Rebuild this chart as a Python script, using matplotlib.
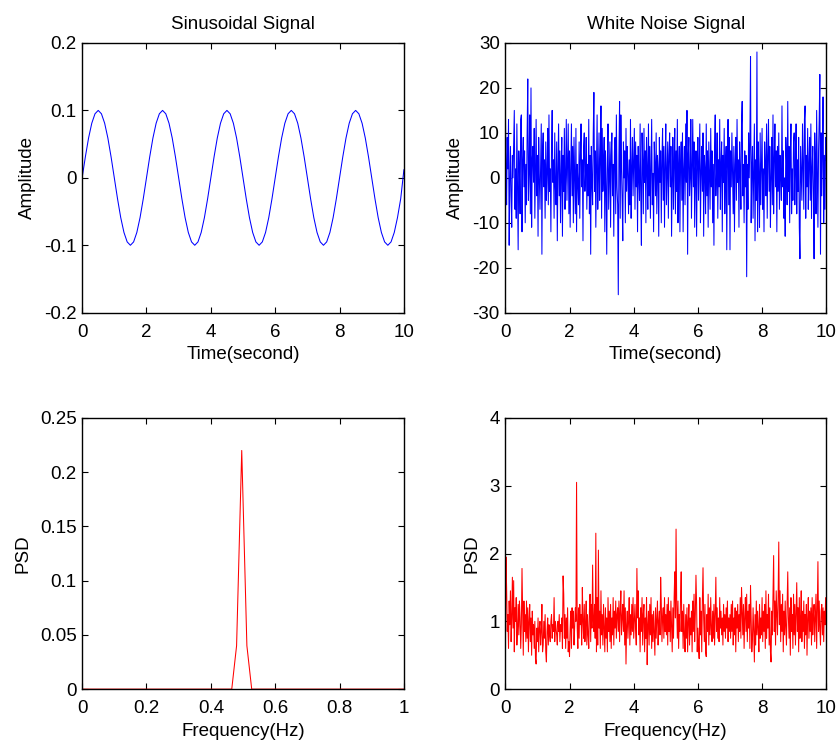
import matplotlib
matplotlib.use('Agg')
import matplotlib.pyplot as plt
from matplotlib.ticker import FuncFormatter

plt.rcParams['font.family'] = ['Liberation Sans', 'DejaVu Sans']
plt.rcParams['axes.unicode_minus'] = False

# sinusoid, 0.1 s steps from 0 to 10 s
sine_t = [i * 0.1 for i in range(101)]
sine_amp = [
    0, .031, .059, .081, .095, .1, .095, .081, .059, .031,
    0, -.031, -.059, -.081, -.095, -.1, -.095, -.081, -.059, -.031,
    0, .031, .059, .081, .095, .1, .095, .081, .059, .031,
    0, -.031, -.059, -.081, -.095, -.1, -.095, -.081, -.059, -.031,
    0, .031, .059, .081, .095, .1, .095, .081, .059, .031,
    0, -.031, -.059, -.081, -.095, -.1, -.095, -.081, -.059, -.031,
    0, .031, .059, .081, .095, .1, .095, .081, .059, .031,
    0, -.031, -.059, -.081, -.095, -.1, -.095, -.081, -.059, -.031,
    0, .031, .059, .081, .095, .1, .095, .081, .059, .031,
    0, -.031, -.059, -.081, -.095, -.1, -.095, -.081, -.059, -.031,
    0.012,
]

# psd of the sinusoid (only the bins around 0.5 Hz are non zero)
sine_freq = [0, 0.465, 0.48, 0.496, 0.512, 0.527, 1.0]
sine_psd = [0, 0, 0.04, 0.22, 0.04, 0, 0]

# white noise, 0.02 s steps (one row = 0.5 s)
noise_t = [i * 0.02 for i in range(501)]
noise_amp = [
    17, 3, -6, 9, 2, 13, -15, -1, 7, -4, -11, 5, 0, 8, 15, -7, 2, -9, 12, -3, -16, 6, 1, -8, 13,
    14, -12, 4, 9, -2, 6, -10, 3, -6, 10, 22, -5, 1, 14, -8, 20, -11, 4, 7, -1, 11, -9, 2, 13, -4,
    5, -13, 9, 0, -7, 3, 12, -17, 6, 10, -2, 4, -9, 8, -5, 1, 11, -6, 14, -3, 2, -12, 7, 15, -1,
    4, -9, 10, -2, -6, 8, -14, 2, 12, -4, 6, -10, 1, 9, -13, 5, -3, 11, -7, 0, 13, -5, 3, 12, -8,
    6, -11, 2, 12, -4, 7, -10, 9, 1, -8, 11, -12, 3, -1, -6, 8, -9, 5, 12, -2, 4, -14, 7, 10, -3,
    1, 9, -7, 3, -4, 13, -8, 5, -17, 7, -1, -6, 10, 19, -3, 6, -11, 2, 14, -7, 0, 10, -5, 4, 16,
    -9, 11, -3, 2, 9, -12, 6, -2, -17, 4, 12, -7, 1, 8, -11, 5, 10, -4, 3, -13, 6, 9, -8, 14, -2,
    -6, -26, 5, 17, -9, 14, 2, -5, -14, 8, 0, 6, -10, 11, -3, 7, 1, -8, 4, -6, 13, -9, 2, 9, -4,
    3, 11, -7, 8, -2, 5, -12, 7, 0, -5, 12, -3, -15, 10, 4, -8, 11, -1, 6, -10, 9, 2, -7, 12, -4,
    7, -9, 2, 13, -6, 1, -12, 8, 3, -4, 10, -8, 5, 2, -13, 9, -1, 6, -10, 4, 11, -5, 7, -11, 3,
    12, -6, 1, 8, -9, 5, 10, -2, 7, -13, 0, 9, -7, 4, 11, -8, 6, -3, 13, -10, 2, 7, -12, 3, 8,
    -5, 10, -12, 2, 7, -6, 12, -1, 15, -17, 5, 9, -4, 0, 13, -9, 3, 13, -2, 8, -11, 1, 6, -13, 4,
    9, -5, 3, 12, -10, 1, 7, -3, 10, -13, 5, 2, -8, 12, -4, 6, -11, 8, 0, -7, 11, -2, 6, -10, 3,
    -15, 7, 14, -4, 1, 10, -9, 4, -2, 13, -7, 3, 8, -12, 5, -1, 11, -8, 2, 7, -16, 4, 13, -6, 9,
    -16, 6, -2, 10, 1, -8, 7, -12, 3, 9, -5, 13, -1, 4, -11, 8, 2, -7, 12, 17, -4, 3, -10, 6, -2,
    5, -22, 3, -7, 10, 0, 8, 27, -10, 2, 7, -9, 1, 12, -14, 4, -5, 28, -12, 8, 1, -11, 10, -6, 3,
    11, -7, 2, -12, 8, 3, -4, 12, -9, 5, 13, -3, 7, -11, 0, 9, -6, 14, -8, 4, 12, -2, 6, -12, 7,
    -3, 10, -7, 5, 1, -5, 16, -2, 6, -9, 0, -13, 9, 4, -6, 17, -3, 7, -10, 5, 12, -8, 2, -5, 8,
    10, -6, 2, 12, -8, 4, -3, 9, -11, -18, 7, 1, -5, 12, 3, -7, 13, 16, -9, 5, -2, 11, -7, 3, 9,
    -5, 12, -9, 2, 7, -3, -18, 10, 4, -8, 15, 2, -11, 6, 13, 23, -17, 10, -4, 6, 18, -10, 5, -7, 9,
    4,
]

# psd of the noise, 0.02 Hz bins (one row = 0.5 Hz)
noise_freq = [i * 0.02 for i in range(501)]
noise_psd = [
    0.43, 1.95, 1.5, 0.85, 1.1, 0.6, 1.3, 0.95, 1.45, 0.7, 1.05, 1.65, 0.9, 1.6, 0.55, 1.2, 1.0, 1.35, 0.65, 0.9, 1.25, 0.8, 1.3, 1.05, 0.6,
    0.95, 1.78, 1.1, 0.5, 1.3, 0.85, 1.1, 0.7, 1.3, 0.75, 1.2, 0.55, 1.0, 1.25, 0.7, 1.05, 0.5, 1.15, 0.8, 0.95, 0.6, 1.0, 0.45, 0.37, 0.9,
    0.7, 1.05, 0.55, 0.9, 1.0, 0.65, 0.85, 1.25, 0.55, 0.65, 1.0, 0.75, 1.1, 0.55, 0.4, 0.85, 1.05, 0.65, 0.95, 0.8, 0.7, 1.0, 1.1, 0.75, 0.95,
    0.85, 1.35, 0.7, 1.0, 0.9, 0.8, 0.65, 1.0, 0.85, 1.1, 0.7, 0.95, 0.85, 1.05, 0.6, 1.67, 1.4, 0.75, 1.1, 0.6, 1.05, 0.75, 1.2, 0.55, 0.7,
    0.48, 0.9, 1.15, 0.6, 1.2, 0.9, 1.15, 0.65, 0.9, 1.2, 1.0, 3.05, 0.9, 0.6, 1.2, 0.75, 1.25, 0.95, 1.1, 0.65, 1.5, 1.0, 0.75, 1.25, 0.7,
    0.95, 1.3, 0.65, 1.1, 0.8, 0.6, 1.15, 1.4, 0.7, 1.25, 0.9, 1.83, 1.05, 0.85, 1.25, 0.75, 2.3, 0.55, 1.35, 0.65, 2.05, 0.9, 1.15, 0.6, 1.45,
    0.8, 1.1, 0.65, 1.25, 0.9, 0.55, 1.2, 0.75, 1.05, 0.55, 1.35, 0.85, 1.15, 0.7, 1.25, 0.6, 1.05, 0.8, 1.35, 0.65, 1.15, 0.9, 1.3, 0.75, 1.1,
    1.2, 0.85, 1.3, 0.7, 1.15, 1.45, 0.8, 1.05, 1.25, 0.85, 1.45, 0.65, 1.2, 0.37, 0.95, 1.15, 0.75, 1.0, 1.35, 0.65, 1.1, 0.8, 1.25, 0.85, 1.35,
    0.75, 1.0, 1.25, 0.9, 0.65, 1.78, 1.05, 1.45, 0.8, 1.05, 0.55, 1.2, 0.85, 1.35, 0.65, 1.1, 1.25, 0.55, 1.05, 0.75, 1.35, 0.36, 0.95, 1.15, 0.65,
    1.25, 0.8, 1.35, 0.6, 1.1, 0.7, 1.15, 0.85, 0.5, 1.2, 0.75, 1.05, 1.3, 0.65, 1.0, 1.15, 0.8, 1.65, 1.25, 0.7, 1.05, 1.2, 0.75, 1.35, 0.85,
    1.1, 0.8, 1.25, 0.65, 1.35, 0.85, 1.15, 0.7, 1.3, 0.9, 0.55, 1.2, 0.75, 1.35, 1.73, 1.05, 2.36, 1.25, 0.75, 1.3, 0.6, 1.1, 0.85, 1.35, 1.73,
    0.85, 1.15, 0.6, 1.25, 0.8, 0.55, 1.1, 0.75, 1.2, 0.55, 1.0, 1.25, 0.65, 1.05, 0.8, 1.15, 0.55, 1.3, 0.85, 1.4, 0.7, 1.1, 1.68, 1.25, 0.55,
    0.9, 0.65, 0.45, 1.35, 0.8, 1.15, 0.55, 1.3, 1.79, 1.05, 0.7, 1.25, 0.55, 0.48, 1.1, 0.85, 1.4, 0.65, 1.2, 0.8, 1.35, 0.9, 0.7, 1.15, 0.75,
    1.25, 0.65, 1.1, 1.65, 0.85, 1.2, 0.75, 1.05, 0.7, 1.35, 0.9, 1.15, 0.8, 1.05, 0.65, 1.25, 0.85, 1.1, 0.75, 1.2, 0.9, 1.3, 0.7, 1.05, 0.85,
    1.1, 0.75, 1.25, 0.85, 1.3, 0.65, 1.05, 0.8, 1.2, 0.55, 1.15, 0.9, 1.25, 0.7, 1.1, 0.85, 1.35, 0.75, 1.5, 1.15, 0.8, 1.25, 0.6, 1.05, 1.35,
    0.85, 1.4, 0.7, 1.15, 0.9, 1.25, 0.6, 1.53, 1.05, 0.55, 0.75, 1.2, 0.85, 0.4, 1.1, 0.65, 1.3, 0.8, 1.15, 0.9, 0.55, 1.25, 0.75, 1.05, 0.8,
    1.35, 0.7, 1.15, 0.85, 1.25, 0.6, 1.45, 0.75, 1.1, 0.9, 1.4, 0.65, 1.2, 0.55, 0.4, 1.15, 0.8, 1.35, 1.97, 0.85, 1.3, 0.65, 1.45, 1.1, 0.8,
    1.35, 2.17, 0.95, 1.45, 0.7, 1.25, 0.85, 1.4, 0.55, 1.15, 0.8, 1.3, 0.9, 0.65, 1.25, 1.73, 1.05, 0.75, 1.2, 0.5, 1.35, 0.85, 1.1, 0.6, 1.4,
    0.8, 1.25, 0.65, 1.1, 1.57, 0.85, 1.2, 0.55, 1.35, 0.75, 1.05, 1.45, 0.7, 1.15, 0.85, 1.3, 0.6, 1.1, 0.8, 1.25, 0.5, 1.05, 1.35, 0.75, 1.15,
    0.85, 1.2, 0.65, 1.35, 0.8, 1.1, 1.25, 0.7, 1.05, 1.4, 0.6, 1.15, 1.88, 0.85, 1.3, 0.9, 0.65, 1.15, 1.25, 0.8, 1.2, 0.7, 1.15, 0.95, 1.35,
    0.95,
]

fig = plt.figure(figsize=(8.38, 7.41), dpi=100)
fs = 13.5
lw = 0.75
fmt = FuncFormatter(lambda v, p: '%g' % round(v, 6))

def style(ax, xlim, ylim, xticks, yticks, xlabel, ylabel, title=None):
    ax.set_xlim(xlim)
    ax.set_ylim(ylim)
    ax.set_xticks(xticks)
    ax.set_yticks(yticks)
    ax.xaxis.set_major_formatter(fmt)
    ax.yaxis.set_major_formatter(fmt)
    ax.tick_params(direction='in', top=True, right=True, length=4, width=0.8, labelsize=fs)
    ax.tick_params(axis='x', pad=8)
    ax.tick_params(axis='y', pad=4)
    for s in ax.spines.values():
        s.set_linewidth(1.0)
    ax.set_xlabel(xlabel, fontsize=fs, labelpad=4)
    ax.set_ylabel(ylabel, fontsize=fs, labelpad=6)
    if title:
        ax.set_title(title, fontsize=fs, pad=10)

# top left ---> sinusoid
ax1 = fig.add_axes([0.098, 0.578, 0.384, 0.364])
ax1.plot(sine_t, sine_amp, color='#0000ff', linewidth=lw)
style(ax1, (0, 10), (-0.2, 0.2), range(0, 11, 2), [-0.2, -0.1, 0, 0.1, 0.2],
      'Time(second)', 'Amplitude', 'Sinusoidal Signal')

# top right ---> white noise
ax2 = fig.add_axes([0.603, 0.578, 0.383, 0.364])
ax2.plot(noise_t, noise_amp, color='#0000ff', linewidth=lw)
style(ax2, (0, 10), (-30, 30), range(0, 11, 2), range(-30, 31, 10),
      'Time(second)', 'Amplitude', 'White Noise Signal')

# bottom left ---> psd of sinusoid
ax3 = fig.add_axes([0.098, 0.070, 0.384, 0.366])
ax3.plot(sine_freq, sine_psd, color='#ff0000', linewidth=lw)
style(ax3, (0, 1), (0, 0.25), [0, 0.2, 0.4, 0.6, 0.8, 1], [0, 0.05, 0.1, 0.15, 0.2, 0.25],
      'Frequency(Hz)', 'PSD')

# bottom right ---> psd of noise
ax4 = fig.add_axes([0.603, 0.070, 0.383, 0.366])
ax4.plot(noise_freq, noise_psd, color='#ff0000', linewidth=lw)
style(ax4, (0, 10), (0, 4), range(0, 11, 2), range(0, 5),
      'Frequency(Hz)', 'PSD')

fig.savefig('out.png', dpi=100)
